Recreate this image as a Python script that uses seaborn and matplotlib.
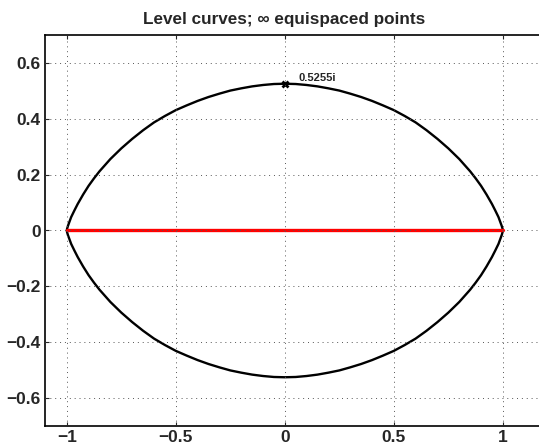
"""Level curve for equispaced interpolation points (Runge region)."""

import matplotlib
matplotlib.use("Agg")
import matplotlib.pyplot as plt
import pandas as pd
import seaborn as sns

# upper half of the level curve through +-1
curve_x = [-1.0, -0.999, -0.995, -0.98, -0.965, -0.95, -0.925, -0.9, -0.875, -0.85, -0.8, -0.75,
           -0.7, -0.65, -0.6, -0.55, -0.5, -0.45, -0.4, -0.35, -0.3, -0.25, -0.2, -0.15, -0.1, -0.05,
           0.0, 0.05, 0.1, 0.15, 0.2, 0.25, 0.3, 0.35, 0.4, 0.45, 0.5, 0.55, 0.6, 0.65, 0.7,
           0.75, 0.8, 0.85, 0.875, 0.9, 0.925, 0.95, 0.965, 0.98, 0.995, 0.999, 1.0]
curve_y = [0.0, 0.005, 0.016, 0.048, 0.072, 0.095, 0.129, 0.160, 0.187, 0.212, 0.256, 0.294,
           0.328, 0.359, 0.387, 0.410, 0.431, 0.448, 0.464, 0.478, 0.490, 0.501, 0.509, 0.516, 0.521, 0.5245,
           0.5255, 0.5245, 0.521, 0.516, 0.509, 0.501, 0.490, 0.478, 0.464, 0.448, 0.431, 0.410, 0.387, 0.359, 0.328,
           0.294, 0.256, 0.212, 0.187, 0.160, 0.129, 0.095, 0.072, 0.048, 0.016, 0.005, 0.0]

interval_x = [-1.0, 1.0]
interval_y = [0.0, 0.0]

crossing = 0.5255
crossing_label = "0.5255i"

x_ticks = [-1, -0.5, 0, 0.5, 1]
y_ticks = [-0.6, -0.4, -0.2, 0, 0.2, 0.4, 0.6]

sns.set_theme(style="ticks")
plt.rcParams["font.family"] = ["Liberation Sans", "DejaVu Sans"]
plt.rcParams["font.weight"] = "bold"

W, H = 539, 448
fig = plt.figure(figsize=(W / 100, H / 100), dpi=100)
ax = fig.add_axes([45 / W, 22 / H, (541 - 45) / W, (413 - 22) / H])

upper = pd.DataFrame({"x": curve_x, "y": curve_y})
lower = pd.DataFrame({"x": curve_x, "y": [-v for v in curve_y]})
for part in (upper, lower):
    sns.lineplot(data=part, x="x", y="y", sort=False, estimator=None,
                 color="black", linewidth=1.7, ax=ax)

sns.lineplot(x=interval_x, y=interval_y, color="red", linewidth=2.4, ax=ax)
ax.plot([0], [crossing], marker="x", color="black", markersize=5, markeredgewidth=2)
ax.text(0.064, crossing + 0.01, crossing_label, fontsize=8, fontweight="bold")

ax.set_xlim(-1.1, 1.175)
ax.set_ylim(-0.7, 0.7)
ax.set_xticks(x_ticks)
ax.set_xticklabels(["\u22121", "\u22120.5", "0", "0.5", "1"])
ax.set_yticks(y_ticks)
ax.set_yticklabels(["\u22120.6", "\u22120.4", "\u22120.2", "0", "0.2", "0.4", "0.6"])
ax.set_xlabel("")
ax.set_ylabel("")
ax.tick_params(direction="in", length=3, width=0.8, top=True, labelsize=12.5, pad=3)
ax.grid(True, linestyle=(0, (1, 4)), color="#555555", linewidth=0.7)
ax.set_axisbelow(False)
ax.spines["right"].set_visible(False)
for s in ("left", "bottom", "top"):
    ax.spines[s].set_linewidth(1.2)
    ax.spines[s].set_color("black")

ax.set_title("Level curves; \u221e equispaced points", fontsize=12.3, fontweight="bold",
             x=(284 - 45) / (541 - 45), pad=8)

fig.savefig("out.png", dpi=100)
